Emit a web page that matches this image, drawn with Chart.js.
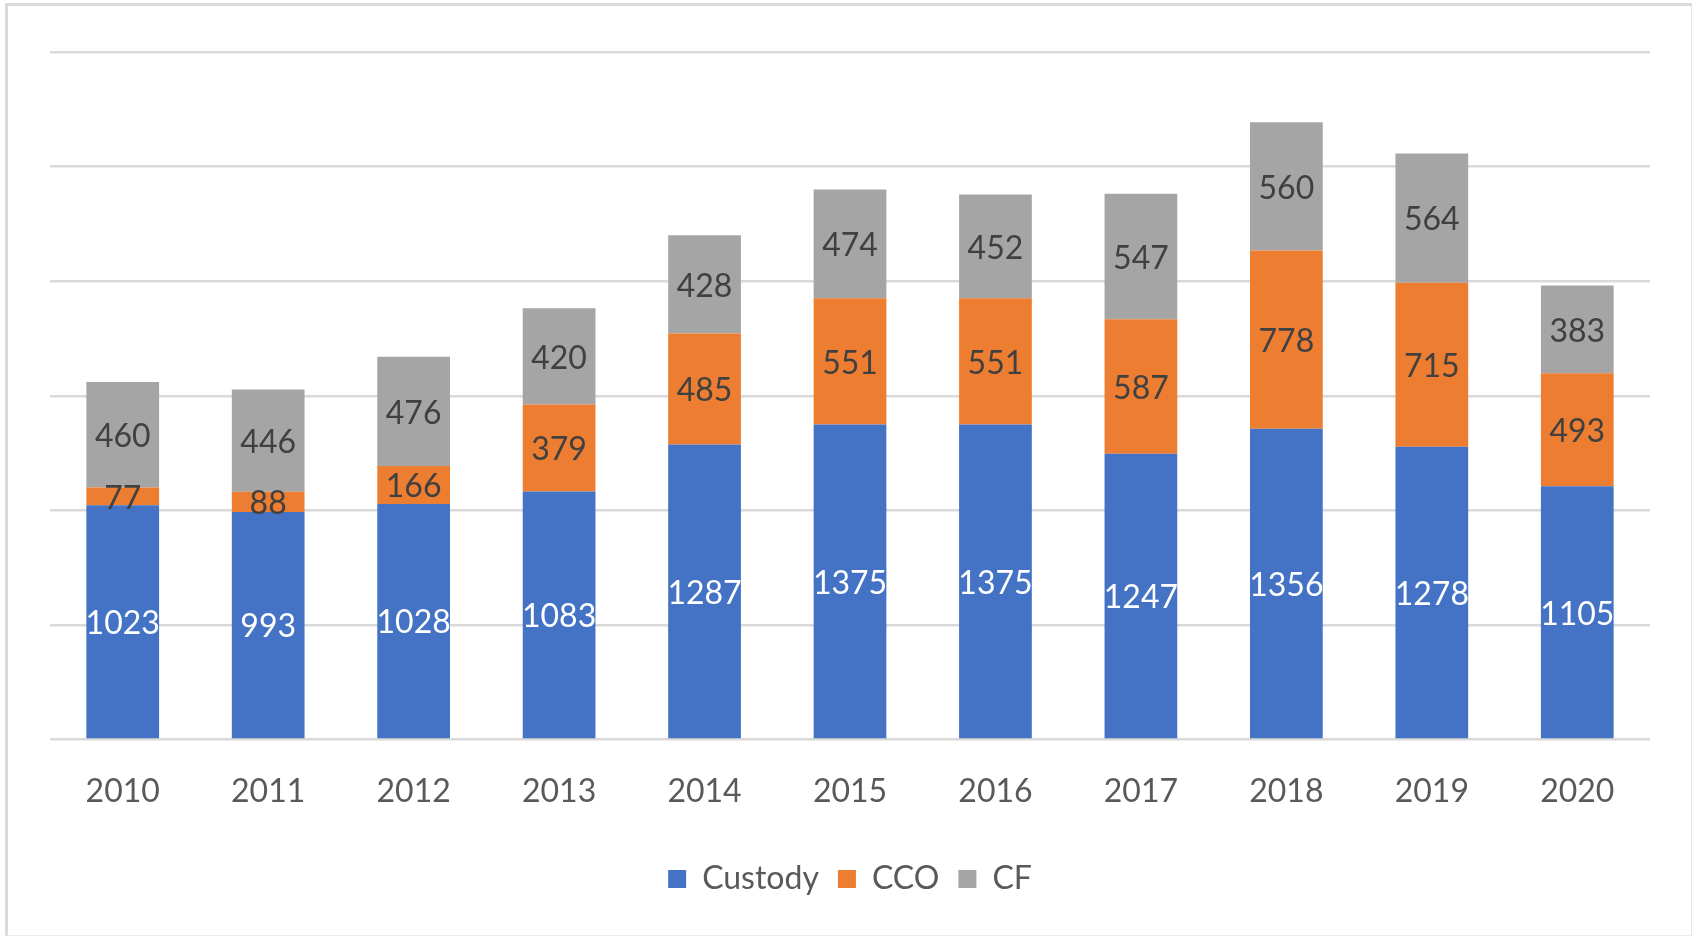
<!DOCTYPE html>
<html>
<head>
<meta charset="utf-8">
<script src="https://cdn.jsdelivr.net/npm/chart.js@4"></script>
<style>
  html, body { margin: 0; padding: 0; background: #fff; }
  #wrap { position: relative; width: 1692px; height: 937px; }
  #frame {
    position: absolute; left: 5px; top: 3px; right: 0px; bottom: 1px;
    border-left: 3px solid #d9d9d9; border-top: 3px solid #d9d9d9;
    border-right: 1px solid #e6e6e6; border-bottom: 1px solid #ededed;
    pointer-events: none;
  }
</style>
</head>
<body>
<div id="wrap">
  <canvas id="barChart" width="1692" height="937"></canvas>
  <div id="frame"></div>
</div>
<script>
  const years = ['2010', '2011', '2012', '2013', '2014', '2015', '2016', '2017', '2018', '2019', '2020'];
  const custody = [1023, 993, 1028, 1083, 1287, 1375, 1375, 1247, 1356, 1278, 1105];
  const cco = [77, 88, 166, 379, 485, 551, 551, 587, 778, 715, 493];
  const cf = [460, 446, 476, 420, 428, 474, 452, 547, 560, 564, 383];

  const fontFamily = 'Lato, "Open Sans", sans-serif';

  // draws the value in the middle of every bar segment
  const barLabels = {
    id: 'barLabels',
    afterDatasetsDraw(chart) {
      const ctx = chart.ctx;
      ctx.save();
      ctx.font = '32px ' + fontFamily;
      ctx.textAlign = 'center';
      ctx.textBaseline = 'middle';
      chart.data.datasets.forEach((ds, i) => {
        const meta = chart.getDatasetMeta(i);
        ctx.fillStyle = i === 0 ? '#ffffff' : '#404040';
        meta.data.forEach((bar, j) => {
          const p = bar.getCenterPoint();
          ctx.fillText(String(ds.data[j]), p.x, p.y + 2);
        });
      });
      ctx.restore();
    }
  };

  const barChart = new Chart(document.getElementById('barChart'), {
    type: 'bar',
    data: {
      labels: years,
      datasets: [{
        label: 'Custody',
        data: custody,
        backgroundColor: '#4472c4'
      }, {
        label: 'CCO',
        data: cco,
        backgroundColor: '#ed7d31'
      }, {
        label: 'CF',
        data: cf,
        backgroundColor: '#a5a5a5'
      }]
    },
    options: {
      responsive: false,
      animation: false,
      datasets: {
        bar: { categoryPercentage: 1, barPercentage: 0.5 }
      },
      layout: {
        padding: { left: 50, right: 42, top: 52, bottom: 32 }
      },
      plugins: {
        tooltip: { enabled: false },
        legend: {
          position: 'bottom',
          labels: {
            color: '#595959',
            font: { family: fontFamily, size: 32 },
            boxWidth: 18,
            boxHeight: 18,
            padding: 19
          }
        }
      },
      scales: {
        x: {
          stacked: true,
          grid: { display: false, drawTicks: false },
          border: { display: false },
          ticks: {
            color: '#595959',
            font: { family: fontFamily, size: 32 },
            padding: 33
          }
        },
        y: {
          stacked: true,
          min: 0,
          max: 3000,
          grid: { color: '#d9d9d9', lineWidth: 2.5, drawTicks: false },
          border: { display: false },
          ticks: { display: false, stepSize: 500 }
        }
      }
    },
    plugins: [barLabels]
  });
</script>
</body>
</html>
